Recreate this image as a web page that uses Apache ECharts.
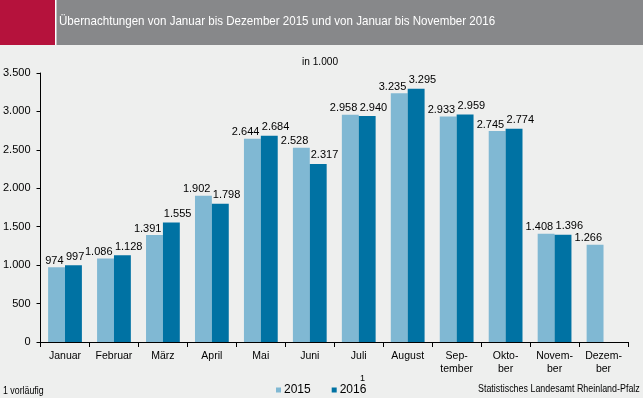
<!DOCTYPE html>
<html lang="de">
<head>
  <meta charset="UTF-8">
  <title>Übernachtungen</title>
  <script src="https://cdn.jsdelivr.net/npm/echarts@6/dist/echarts.min.js"></script>
  <style>
    body { margin: 0; background: #eeefee; }
    #chart { width: 643px; height: 398px; }
  </style>
</head>
<body>
<div id="chart"></div>
<script>
  const months = ["Januar", "Februar", "März", "April", "Mai", "Juni", "Juli", "August",
    "Sep-\ntember", "Okto-\nber", "Novem-\nber", "Dezem-\nber"];
  const v2015 = [974, 1086, 1391, 1902, 2644, 2528, 2958, 3235, 2933, 2745, 1408, 1266];
  const v2016 = [997, 1128, 1555, 1798, 2684, 2317, 2940, 3295, 2959, 2774, 1396, null];

  const font = "'Liberation Sans', Arial, sans-serif";
  // Tausenderpunkt wie im Original
  const fmt = (v) => String(v).replace(/\B(?=(\d{3})+(?!\d))/g, ".");

  let myChart = echarts.init(document.getElementById("chart"));
  let option = {
    backgroundColor: "#eeefee",
    animation: false,
    textStyle: { fontFamily: font },
    grid: { left: 38, right: 15, top: 73, bottom: 56 },
    legend: {
      top: 379,
      left: 271,
      itemWidth: 5,
      itemHeight: 5,
      itemGap: 21,
      icon: "rect",
      textStyle: { fontSize: 12, color: "#000", fontFamily: font, padding: [0, 0, 0, -2] },
      data: ["2015", "2016"]
    },
    xAxis: {
      type: "category",
      data: months,
      axisLine: { lineStyle: { color: "#000" } },
      axisTick: { show: true, length: 5, lineStyle: { color: "#000" } },
      axisLabel: { color: "#000", fontSize: 10.5, lineHeight: 13, margin: 8, interval: 0 }
    },
    yAxis: {
      type: "value",
      min: 0,
      max: 3500,
      interval: 500,
      splitLine: { show: false },
      axisLine: { show: true, lineStyle: { color: "#000" } },
      axisTick: { show: true, length: 4, lineStyle: { color: "#000" } },
      axisLabel: { color: "#000", fontSize: 11, margin: 10, formatter: fmt }
    },
    series: [
      {
        name: "2015",
        type: "bar",
        data: v2015,
        barGap: "0%",
        barCategoryGap: "31%",
        itemStyle: { color: "#80b8d3" },
        // Beschriftung rechtsbündig an der Säule
        label: { show: true, position: "top", distance: 1, align: "right", offset: [7, 0],
          color: "#000", fontSize: 11, formatter: (p) => fmt(p.value) }
      },
      {
        name: "2016",
        type: "bar",
        data: v2016,
        itemStyle: { color: "#0072a3" },
        label: { show: true, position: "top", distance: 3, align: "left", offset: [-7.5, 0],
          color: "#000", fontSize: 11, formatter: (p) => fmt(p.value) }
      }
    ],
    graphic: [
      { type: "rect", left: 0, top: 0, shape: { width: 643, height: 45 }, style: { fill: "#87888a" } },
      { type: "rect", left: 0, top: 0, shape: { width: 55, height: 45 }, style: { fill: "#b5123c" } },
      { type: "rect", left: 55, top: 0, shape: { width: 1.5, height: 45 }, style: { fill: "#ffffff" } },
      { type: "text", x: 59, y: 15, scaleX: 0.89, style: { text: "Übernachtungen von Januar bis Dezember 2015 und von Januar bis November 2016", fill: "#fff", font: "13px " + font } },
      { type: "text", x: 302, y: 56, scaleX: 0.92, style: { text: "in 1.000", fill: "#000", font: "11px " + font } },
      { type: "text", x: 3, y: 386, scaleX: 0.88, style: { text: "1 vorläufig", fill: "#000", font: "10px " + font } },
      { type: "text", x: 478, y: 384, scaleX: 0.89, style: { text: "Statistisches Landesamt Rheinland-Pfalz", fill: "#000", font: "10px " + font } },
      { type: "text", x: 360, y: 374, style: { text: "1", fill: "#000", font: "9px " + font } }
    ]
  };
  myChart.setOption(option);
</script>
</body>
</html>
